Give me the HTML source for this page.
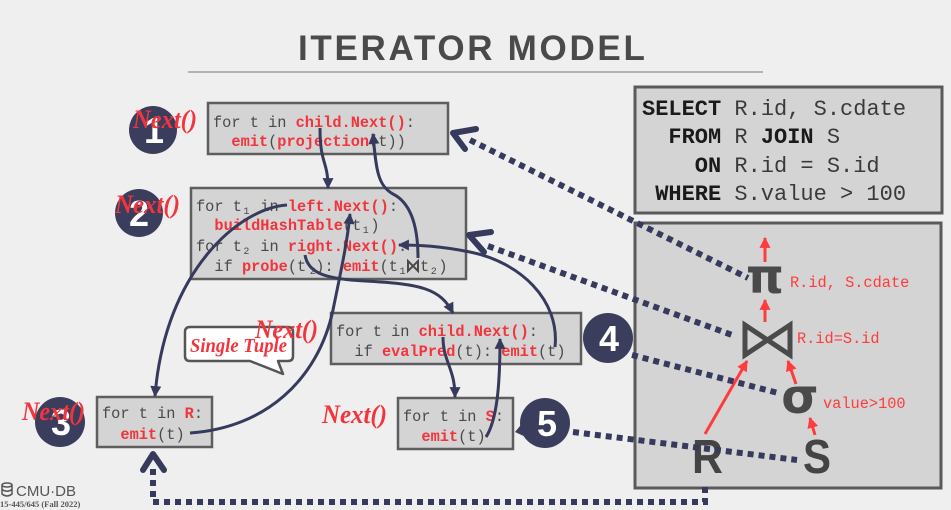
<!DOCTYPE html>
<html>
<head>
<meta charset="utf-8">
<style>
html,body{margin:0;padding:0;background:#efefef;}
svg{display:block;}
.c{font-family:"Liberation Mono",monospace;font-size:15.3px;fill:#4a4a4a;}
.r{fill:#f2343c;font-weight:bold;}
.sub{font-family:"Liberation Mono",monospace;font-size:10px;fill:#4a4a4a;}
.q{font-family:"Liberation Mono",monospace;font-size:22px;fill:#3a3a3a;}
.k{font-weight:bold;fill:#1a1a1a;}
.nx{font-family:"Liberation Serif",serif;font-style:italic;font-weight:bold;font-size:26px;fill:#f2343c;}
.num{font-family:"Liberation Sans",sans-serif;font-weight:bold;font-size:36px;fill:#ffffff;}
.tl{font-family:"Liberation Mono",monospace;font-size:15.3px;fill:#ff3b3b;}
</style>
</head>
<body>
<svg width="951" height="510" viewBox="0 0 951 510" xmlns="http://www.w3.org/2000/svg" xml:space="preserve">
<defs>
<marker id="ah" viewBox="0 0 10 10" refX="9" refY="5" markerWidth="12" markerHeight="11" markerUnits="userSpaceOnUse" orient="auto"><path d="M0,0 L10,5 L0,10 z" fill="#363a5c"/></marker>
<marker id="rh" viewBox="0 0 10 10" refX="9" refY="5" markerWidth="11" markerHeight="11" markerUnits="userSpaceOnUse" orient="auto"><path d="M0,0 L10,5 L0,10 z" fill="#ff3b3b"/></marker>
</defs>
<rect x="0" y="0" width="951" height="510" fill="#efefef"/>

<!-- Title -->
<text x="298" y="60" style="font-family:'Liberation Sans',sans-serif;font-weight:bold;font-size:35px;fill:#4a4a4a;letter-spacing:2.7px">ITERATOR MODEL</text>
<line x1="188" y1="72" x2="763" y2="72" stroke="#b3b3b3" stroke-width="2"/>

<!-- Boxes -->
<rect x="208" y="103" width="240" height="51" fill="#d4d4d4" stroke="#5e5e5e" stroke-width="2.5"/>
<rect x="191" y="188" width="275" height="91" fill="#d4d4d4" stroke="#5e5e5e" stroke-width="2.5"/>
<rect x="331" y="313" width="250" height="51" fill="#d4d4d4" stroke="#5e5e5e" stroke-width="2.5"/>
<rect x="97" y="397" width="115" height="50" fill="#d4d4d4" stroke="#5e5e5e" stroke-width="2.5"/>
<rect x="398" y="398" width="115" height="51" fill="#d4d4d4" stroke="#5e5e5e" stroke-width="2.5"/>
<rect x="635" y="87" width="307" height="126" fill="#d4d4d4" stroke="#5a5a5a" stroke-width="3"/>
<rect x="635" y="223" width="306" height="265" fill="#d4d4d4" stroke="#5a5a5a" stroke-width="3"/>

<!-- Box 1 code -->
<text x="213" y="127" class="c">for t in <tspan class="r">child.Next()</tspan>:</text>
<text x="231.4" y="146" class="c"><tspan class="r">emit</tspan>(<tspan class="r">projection</tspan>(t))</text>

<!-- Box 2 code -->
<text x="196" y="211" class="c">for t</text><text x="243.4" y="214" class="sub">1</text><text x="260.3" y="211" class="c">in <tspan class="r">left.Next()</tspan>:</text>
<text x="214.4" y="230" class="c"><tspan class="r">buildHashTable</tspan>(t</text><text x="362.7" y="233" class="sub">1</text><text x="370.4" y="230" class="c">)</text>
<text x="196" y="251" class="c">for t</text><text x="243.4" y="254" class="sub">2</text><text x="260.3" y="251" class="c">in <tspan class="r">right.Next()</tspan>:</text>
<text x="214.4" y="271" class="c">if <tspan class="r">probe</tspan>(t</text><text x="309.7" y="274" class="sub">2</text><text x="315.3" y="271" class="c">): <tspan class="r">emit</tspan>(t</text><text x="399.5" y="274" class="sub">1</text>
<path d="M408,261 L408,271 L418,261 L418,271 Z" fill="none" stroke="#4a4a4a" stroke-width="2" stroke-linejoin="miter"/>
<text x="420" y="271" class="c">t</text><text x="430.7" y="274" class="sub">2</text><text x="438.4" y="271" class="c">)</text>

<!-- Filter box code -->
<text x="336" y="336" class="c">for t in <tspan class="r">child.Next()</tspan>:</text>
<text x="354.4" y="356" class="c">if <tspan class="r">evalPred</tspan>(t): <tspan class="r">emit</tspan>(t)</text>

<!-- R box -->
<text x="102" y="418" class="c">for t in <tspan class="r">R</tspan>:</text>
<text x="120.4" y="439" class="c"><tspan class="r">emit</tspan>(t)</text>

<!-- S box -->
<text x="403" y="421" class="c">for t in <tspan class="r">S</tspan>:</text>
<text x="421.4" y="441" class="c"><tspan class="r">emit</tspan>(t)</text>

<!-- SQL -->
<text x="642" y="115" class="q"><tspan class="k">SELECT</tspan> R.id, S.cdate</text>
<text x="668.4" y="143" class="q"><tspan class="k">FROM</tspan> R <tspan class="k">JOIN</tspan> S</text>
<text x="694.8" y="172" class="q"><tspan class="k">ON</tspan> R.id = S.id</text>
<text x="655.2" y="200" class="q"><tspan class="k">WHERE</tspan> S.value &gt; 100</text>

<!-- Tree -->
<text x="765" y="293" text-anchor="middle" style="font-family:'DejaVu Sans',sans-serif;font-weight:bold;font-size:48px;fill:#4a4a4a">π</text>
<text x="790" y="287" class="tl">R.id, S.cdate</text>
<path d="M745,325 L745,355 L790,325 L790,355 Z" fill="none" stroke="#4a4a4a" stroke-width="5" stroke-linejoin="miter"/>
<text x="797" y="343" class="tl">R.id=S.id</text>
<text x="800" y="413" text-anchor="middle" style="font-family:'DejaVu Sans',sans-serif;font-weight:bold;font-size:48px;fill:#4a4a4a">σ</text>
<text x="823" y="408" class="tl">value&gt;100</text>
<text x="692" y="473" textLength="31" lengthAdjust="spacingAndGlyphs" style="font-family:'Liberation Sans',sans-serif;font-weight:bold;font-size:48px;fill:#444444">R</text>
<text x="803" y="473" textLength="28" lengthAdjust="spacingAndGlyphs" style="font-family:'Liberation Sans',sans-serif;font-weight:bold;font-size:48px;fill:#444444">S</text>

<g stroke="#ff3b3b" stroke-width="3" fill="none" marker-end="url(#rh)">
<path d="M765,262 L765,238"/>
<path d="M765,322 L765,300"/>
<path d="M796,384 L788,361"/>
<path d="M815,435 L810,418"/>
<path d="M705,434 L747,361"/>
</g>

<!-- Dotted lines -->
<g stroke="#363a5c" stroke-width="6" fill="none" stroke-dasharray="6 5">
<path d="M470,140 L748,278"/>
<path d="M488,246 L732,335"/>
<path d="M632,355 L778,393"/>
<path d="M573,432 L797,460"/>
<path d="M705,487 L705,502 L153,502 L153,466"/>
</g>
<g stroke="#363a5c" stroke-width="6" fill="none" stroke-linecap="round" stroke-linejoin="round">
<polyline points="476,129 453,133 465,149"/>
<polyline points="491,232 469,235 484,252"/>
<polyline points="143,470 153,454 164,470"/>
</g>

<!-- Solid curves -->
<g stroke="#363a5c" stroke-width="3" fill="none" marker-end="url(#ah)">
<path d="M320,128 C320,165 328,160 328,188"/>
<path d="M418,258 C418,215 405,200 393,194 C378,186 376,170 373,134"/>
<path d="M287,205 C240,208 165,270 155,396"/>
<path d="M190,433 C265,428 318,380 333,310 C340,275 347,245 350,214"/>
<path d="M305,255 C308,273 325,279 365,281 C420,284 440,288 453,313"/>
<path d="M555,347 C560,300 520,262 470,252 C440,246 420,245 399,245"/>
<path d="M443,337 C443,362 455,368 455,397"/>
<path d="M486,437 C497,420 500,385 500,339"/>
</g>

<!-- Single Tuple callout -->
<path d="M190,327 H288 Q293,327 293,332 V356 Q293,361 288,361 H278 L283,374 L250,361 H190 Q185,361 185,356 V332 Q185,327 190,327 Z" fill="#ffffff" stroke="#555555" stroke-width="2.5" stroke-linejoin="round"/>
<text x="190" y="352" textLength="97" lengthAdjust="spacingAndGlyphs" style="font-family:'Liberation Serif',serif;font-style:italic;font-weight:bold;font-size:20px;fill:#f2343c">Single Tuple</text>

<!-- Number circles -->
<circle cx="153" cy="130" r="24" fill="#3b3d5c"/>
<text x="154" y="143" text-anchor="middle" class="num">1</text>
<circle cx="139" cy="213" r="24" fill="#3b3d5c"/>
<text x="139" y="226" text-anchor="middle" class="num">2</text>
<circle cx="60" cy="422" r="25" fill="#3b3d5c"/>
<text x="61" y="435" text-anchor="middle" class="num">3</text>
<path d="M590,330 L583,340 L592,348 Z" fill="#3b3d5c"/>
<circle cx="608" cy="338" r="25" fill="#3b3d5c"/>
<text x="609" y="351" text-anchor="middle" class="num">4</text>
<path d="M525,420 L515,432 L528,438 Z" fill="#3b3d5c"/>
<circle cx="545" cy="423" r="25" fill="#3b3d5c"/>
<text x="547" y="436" text-anchor="middle" class="num">5</text>

<!-- Next() labels -->
<text x="133" y="128" class="nx" textLength="64" lengthAdjust="spacingAndGlyphs">Next()</text>
<text x="115" y="213" class="nx" textLength="65" lengthAdjust="spacingAndGlyphs">Next()</text>
<text x="22" y="420" class="nx" textLength="63" lengthAdjust="spacingAndGlyphs">Next()</text>
<text x="255" y="338" class="nx" textLength="63" lengthAdjust="spacingAndGlyphs">Next()</text>
<text x="322" y="423" class="nx" textLength="65" lengthAdjust="spacingAndGlyphs">Next()</text>

<!-- Logo -->
<g fill="none" stroke="#555" stroke-width="1.5">
<ellipse cx="7" cy="485" rx="5" ry="2"/>
<path d="M2,485 V494 Q7,498 12,494 V485 M2,489.5 Q7,493 12,489.5"/>
</g>
<text x="16" y="496" style="font-family:'Liberation Sans',sans-serif;font-size:15px;fill:#555">CMU·DB</text>
<text x="0" y="507" style="font-family:'Liberation Serif',serif;font-weight:bold;font-size:8.5px;fill:#555">15-445/645 (Fall 2022)</text>
</svg>
</body>
</html>
